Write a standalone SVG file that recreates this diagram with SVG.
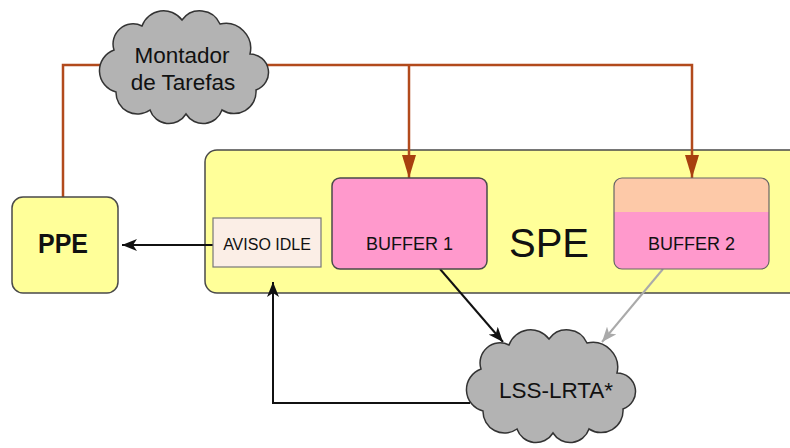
<svg xmlns="http://www.w3.org/2000/svg" width="790" height="448" viewBox="0 0 790 448">
<style>
.box{stroke:#4a4a4a;stroke-width:1.5}
.t{font-family:"Liberation Sans",Arial,sans-serif;fill:#111;text-anchor:middle}
.cloud{fill:#b3b3b3;stroke:#333;stroke-width:1.5}
.brown{fill:none;stroke:#b24a1c;stroke-width:2.5}
.blk{fill:none;stroke:#111;stroke-width:2}
.gry{fill:none;stroke:#aaaaaa;stroke-width:2}
</style>
<defs>
<path id="cloudShape" d="M -70,24 A 22,22 0 0 1 -72,-18 A 20,20 0 0 1 -44,-42 A 23,23 0 0 1 -4,-48 A 22,22 0 0 1 34,-44 A 25,25 0 0 1 64,-14 A 18.5,18.5 0 0 1 70,22 A 22,22 0 0 1 36,42 A 20,20 0 0 1 0,46 A 20,20 0 0 1 -36,42 A 21.5,21.5 0 0 1 -70,24 Z"/>
<marker id="ab" markerUnits="userSpaceOnUse" markerWidth="16" markerHeight="12" refX="15" refY="6" orient="auto">
<path d="M0,0 L15,6 L0,12 L4,6 Z" fill="#111"/>
</marker>
<marker id="ag" markerUnits="userSpaceOnUse" markerWidth="16" markerHeight="12" refX="15" refY="6" orient="auto">
<path d="M0,0 L15,6 L0,12 L4,6 Z" fill="#aaaaaa"/>
</marker>
<marker id="ar" markerUnits="userSpaceOnUse" markerWidth="24" markerHeight="14" refX="23" refY="7" orient="auto">
<path d="M0,0 L23,7 L0,14 Z" fill="#a8400f"/>
</marker>
</defs>

<g id="spe">
<rect class="box" x="205" y="150" width="620" height="143" rx="12" fill="#ffff99"/>
<text class="t" x="549" y="257" font-size="40">SPE</text>
</g>

<g id="connectors">
<path class="brown" d="M63,197 V65 H692 V178" marker-end="url(#ar)"/>
<path class="brown" d="M409,65 V178" marker-end="url(#ar)"/>
<path class="blk" d="M213,245 H122" marker-end="url(#ab)"/>
<path class="blk" d="M440,269 L503,342" marker-end="url(#ab)"/>
<path class="gry" d="M663,269 L602,342" marker-end="url(#ag)"/>
<path class="blk" d="M470,403 H273 V282" marker-end="url(#ab)"/>
</g>

<g id="ppe">
<rect class="box" x="12" y="197" width="106" height="96" rx="11" fill="#ffff99"/>
<text class="t" x="63" y="253" font-size="27" font-weight="bold" textLength="50" lengthAdjust="spacingAndGlyphs">PPE</text>
</g>

<g id="aviso">
<rect x="213" y="218" width="108" height="49" fill="#fbeee6" stroke="#777" stroke-width="1.2"/>
<text class="t" x="267" y="250" font-size="16">AVISO IDLE</text>
</g>

<g id="buffer1">
<rect class="box" x="332" y="178" width="155" height="91" rx="8" fill="#ff99cc" stroke="#666" stroke-width="1.2"/>
<text class="t" x="409.5" y="250" font-size="18">BUFFER 1</text>
</g>

<g id="buffer2">
<rect x="614" y="178" width="155" height="91" rx="8" fill="#ff99cc"/>
<path d="M614,212 V186 A8,8 0 0 1 622,178 H761 A8,8 0 0 1 769,186 V212 Z" fill="#fdc9a8"/>
<rect x="614" y="178" width="155" height="91" rx="8" fill="none" stroke="#666" stroke-width="1.2"/>
<text class="t" x="691.5" y="250" font-size="18">BUFFER 2</text>
</g>

<g id="montador">
<use href="#cloudShape" class="cloud" transform="translate(186,68)"/>
<text class="t" x="182" y="63" font-size="22.5">Montador</text>
<text class="t" x="183" y="90" font-size="22.5">de Tarefas</text>
</g>

<g id="lss">
<use href="#cloudShape" class="cloud" transform="translate(553,387)"/>
<text class="t" x="556" y="398" font-size="22.5">LSS-LRTA*</text>
</g>
</svg>
